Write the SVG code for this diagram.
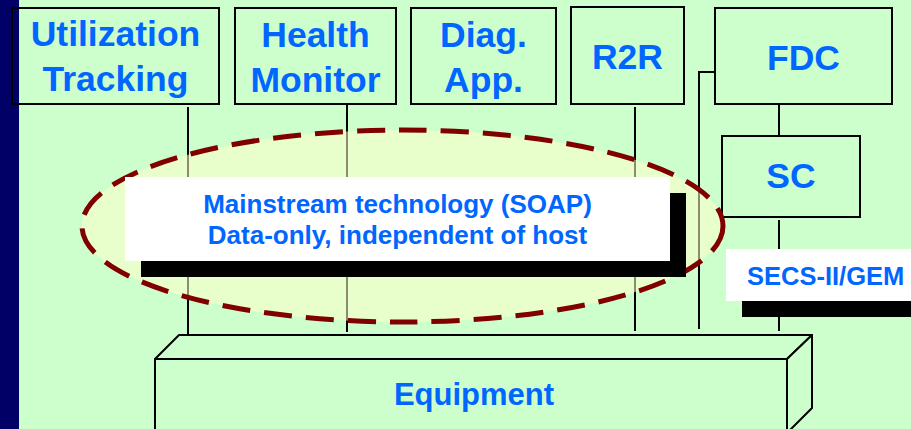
<svg xmlns="http://www.w3.org/2000/svg" width="911" height="429" viewBox="0 0 911 429">
  <style>
    .box { fill: none; stroke: #000; stroke-width: 2; }
    .solid { fill: #CCFFCC; stroke: #000; stroke-width: 2; stroke-linejoin: round; }
    .wire { fill: none; stroke: #000; stroke-width: 2; }
    .title { font-family: "Liberation Sans", Arial, sans-serif; font-weight: bold; font-size: 35.5px; fill: #0066FF; text-anchor: middle; }
    .note { font-family: "Liberation Sans", Arial, sans-serif; font-weight: bold; fill: #0066FF; }
    .card { fill: #FFFFFF; }
    .shade { fill: #000000; }
  </style>

  <!-- slide background and left band -->
  <rect x="0" y="0" width="911" height="429" fill="#CCFFCC"/>
  <rect x="0" y="0" width="19" height="429" fill="#000066"/>

  <!-- links between applications, controller and equipment -->
  <g id="connectors">
    <line class="wire" x1="188" y1="107" x2="188" y2="335"/>
    <line class="wire" x1="347" y1="104" x2="347" y2="332"/>
    <line class="wire" x1="635" y1="107" x2="635" y2="331"/>
    <polyline class="wire" points="715,72 699,72 699,329"/>
    <line class="wire" x1="779" y1="104" x2="779" y2="136"/>
    <line class="wire" x1="779" y1="220" x2="779" y2="331"/>
  </g>

  <g id="utilization-tracking">
    <rect class="box" x="12" y="8" width="207" height="96"/>
    <text class="title" x="115.5" y="46">Utilization</text>
    <text class="title" x="115.5" y="91">Tracking</text>
  </g>

  <g id="health-monitor">
    <rect class="box" x="235" y="8" width="161" height="96"/>
    <text class="title" x="315.5" y="46.5">Health</text>
    <text class="title" x="315.5" y="91.5">Monitor</text>
  </g>

  <g id="diag-app">
    <rect class="box" x="411" y="8" width="145" height="96"/>
    <text class="title" x="483.5" y="46.5">Diag.</text>
    <text class="title" x="483.5" y="91.5">App.</text>
  </g>

  <g id="r2r">
    <rect class="box" x="571" y="7" width="113" height="97"/>
    <text class="title" x="627.5" y="69">R2R</text>
  </g>

  <g id="fdc">
    <rect class="box" x="715" y="8" width="177" height="96"/>
    <text class="title" x="803.5" y="70">FDC</text>
  </g>

  <g id="sc">
    <rect class="box" x="722" y="136" width="138" height="81"/>
    <text class="title" x="791" y="188">SC</text>
  </g>

  <!-- equipment drawn as an open 3D block -->
  <g id="equipment">
    <polygon class="solid" points="155,359 179,335 812,335 787,359"/>
    <polygon class="solid" points="787,359 812,335 812,408 787,433"/>
    <rect class="solid" x="155" y="359" width="632" height="80"/>
    <text class="title" x="474" y="405" style="font-size:31px">Equipment</text>
  </g>

  <!-- dashed web-services zone with its callout -->
  <g id="soap-zone">
    <ellipse cx="402.5" cy="226" rx="320.5" ry="96" fill="#FFFFCC" fill-opacity="0.55" stroke="#800000" stroke-width="5" stroke-dasharray="28 14"/>
    <rect class="shade" x="141" y="193" width="545" height="84"/>
    <rect class="card" x="125" y="177" width="545" height="84"/>
    <text class="note" x="397.5" y="212.5" text-anchor="middle" font-size="26">Mainstream technology (SOAP)</text>
    <text class="note" x="397.5" y="243.5" text-anchor="middle" font-size="26">Data-only, independent of host</text>
  </g>

  <g id="secs-gem">
    <rect class="shade" x="742" y="301" width="190" height="16"/>
    <rect class="card" x="726" y="249" width="200" height="52"/>
    <text class="note" x="747" y="284.5" font-size="25.5">SECS-II/GEM</text>
  </g>
</svg>
